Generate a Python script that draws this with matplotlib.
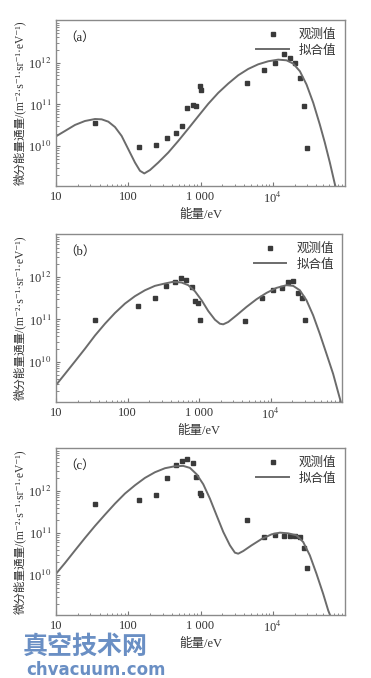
import matplotlib
matplotlib.use("Agg")
import matplotlib.pyplot as plt
import matplotlib.ticker as mticker
import numpy as np

plt.rcParams['font.family'] = ['Liberation Serif', 'Noto Sans CJK SC', 'DejaVu Sans']
plt.rcParams['mathtext.fontset'] = 'stix'

# observed energy channels (eV), shared by the three panels
obs_energy = [35, 140, 245, 346, 456, 560, 660, 790, 875, 975, 1025,
              4350, 7500, 10800, 14100, 17400, 20600, 23800, 27000, 30200]

obs_a = [3.7e10, 9.6e9, 1.06e10, 1.6e10, 2.1e10, 3.1e10, 8.3e10, 9.8e10, 9.3e10, 2.7e11,
         2.2e11, 3.2e11, 6.8e11, 1.0e12, 1.58e12, 1.27e12, 9.6e11, 4.2e11, 9.3e10, 8.9e9]
obs_b = [9.7e10, 2.1e11, 3.2e11, 6.3e11, 7.5e11, 9.8e11, 8.5e11, 6.0e11, 2.7e11, 2.4e11,
         9.6e10, 9.2e10, 3.2e11, 4.9e11, 5.4e11, 7.5e11, 7.9e11, 4.3e11, 3.2e11, 9.7e10]
obs_c = [5.0e11, 6.1e11, 8.2e11, 2.07e12, 4.1e12, 5.2e12, 5.6e12, 4.5e12, 2.1e12, 9.1e11,
         8.2e11, 2.0e11, 8.0e10, 8.9e10, 8.7e10, 8.6e10, 8.6e10, 8.0e10, 4.5e10, 1.5e10]

# fitted curves as log10(E), log10(flux)
fit_a_logE = [1.009, 1.124, 1.263, 1.40, 1.54, 1.632, 1.724, 1.816, 1.908, 2.0, 2.093, 2.162,
              2.222, 2.30, 2.415, 2.554, 2.692, 2.83, 2.969, 3.107, 3.245, 3.384, 3.522, 3.66,
              3.798, 3.937, 4.075, 4.19, 4.283, 4.375, 4.467, 4.56, 4.651, 4.72, 4.79, 4.859, 4.882]
fit_a_logF = [10.247, 10.366, 10.51, 10.604, 10.652, 10.644, 10.588, 10.46, 10.247, 9.93, 9.61, 9.413,
              9.35, 9.43, 9.61, 9.85, 10.127, 10.42, 10.72, 11.015, 11.277, 11.50, 11.698, 11.849,
              11.96, 12.033, 12.072, 12.056, 11.977, 11.795, 11.477, 11.04, 10.52, 10.09, 9.61, 9.095, 8.94]

fit_b_logE = [1.0, 1.126, 1.265, 1.405, 1.544, 1.684, 1.823, 1.963, 2.102, 2.242, 2.381, 2.521,
              2.637, 2.753, 2.847, 2.94, 3.033, 3.126, 3.219, 3.288, 3.335, 3.405, 3.521, 3.66,
              3.80, 3.94, 4.079, 4.219, 4.312, 4.405, 4.498, 4.591, 4.684, 4.777, 4.87, 4.94, 4.986]
fit_b_logF = [9.45, 9.715, 10.01, 10.31, 10.62, 10.90, 11.153, 11.375, 11.55, 11.69, 11.794, 11.85,
              11.89, 11.873, 11.81, 11.667, 11.454, 11.20, 10.995, 10.90, 10.885, 10.94, 11.098, 11.296,
              11.478, 11.628, 11.746, 11.81, 11.794, 11.69, 11.454, 11.098, 10.66, 10.19, 9.715, 9.28, 9.0]

fit_c_logE = [1.0, 1.124, 1.263, 1.40, 1.539, 1.678, 1.816, 1.954, 2.093, 2.231, 2.369, 2.508,
              2.646, 2.761, 2.853, 2.946, 3.038, 3.13, 3.222, 3.315, 3.407, 3.476, 3.522, 3.591,
              3.706, 3.845, 3.983, 4.098, 4.213, 4.329, 4.421, 4.513, 4.605, 4.697, 4.767, 4.813]
fit_c_logF = [10.03, 10.286, 10.587, 10.88, 11.167, 11.437, 11.698, 11.937, 12.135, 12.31, 12.444, 12.54,
              12.587, 12.595, 12.548, 12.397, 12.159, 11.817, 11.42, 11.024, 10.706, 10.532, 10.508, 10.571,
              10.706, 10.857, 10.968, 11.008, 10.992, 10.944, 10.786, 10.468, 10.03, 9.556, 9.16, 8.96]

panel_labels = ["（a）", "（b）", "（c）"]
xtick_vals = [10, 100, 1000, 1e4]
xtick_labels = ["10", "100", "1 000", "10$^4$"]
ytick_vals = [1e10, 1e11, 1e12]
ytick_labels = ["10$^{10}$", "10$^{11}$", "10$^{12}$"]
ylabel = "微分能量通量/(m⁻²·s⁻¹·sr⁻¹·eV⁻¹)"
xlabel = "能量/eV"

fig = plt.figure(figsize=(3.71, 6.78), dpi=100)

panels = [
    ([0.151, 0.7257, 0.779, 0.2448], obs_a, fit_a_logE, fit_a_logF),
    ([0.151, 0.4071, 0.772, 0.2478], obs_b, fit_b_logE, fit_b_logF),
    ([0.151, 0.0929, 0.779, 0.2463], obs_c, fit_c_logE, fit_c_logF),
]

line_col = "#6b6b6b"
pt_col = "#3a3a3a"

for i, (pos, obs, fe, ff) in enumerate(panels):
    ax = fig.add_axes(pos)
    ax.set_xscale("log")
    ax.set_yscale("log")
    ax.plot(obs_energy, obs, "s", color=pt_col, ms=3.4, label="观测值")
    ax.plot(10 ** np.array(fe), 10 ** np.array(ff), "-", color=line_col, lw=1.4, label="拟合值")
    ax.set_xlim(10, 1e5)
    ax.set_ylim(10 ** 9.05, 10 ** 13.02)
    ax.set_xticks(xtick_vals)
    ax.set_xticklabels(xtick_labels)
    ax.set_yticks(ytick_vals)
    ax.set_yticklabels(ytick_labels)
    ax.yaxis.set_minor_locator(mticker.LogLocator(base=10, subs=np.arange(2, 10)))
    ax.yaxis.set_minor_formatter(mticker.NullFormatter())
    ax.tick_params(which="both", direction="in", labelsize=9, colors="#777777",
                   labelcolor="#333333")
    ax.tick_params(which="major", length=3)
    ax.tick_params(which="minor", length=1.8)
    for sp in ax.spines.values():
        sp.set_color("#8a8a8a")
        sp.set_linewidth(1.0)
    ax.set_xlabel(xlabel, fontsize=9, color="#333333", labelpad=2)
    ax.set_ylabel(ylabel, fontsize=8.3, color="#333333", labelpad=1)
    ax.text(0.03, 0.93, panel_labels[i], transform=ax.transAxes, fontsize=9,
            color="#222222", va="top", ha="left")
    ax.legend(loc="upper right", frameon=False, fontsize=9, handlelength=2.6,
              labelspacing=0.3, borderaxespad=0.3, markerscale=1.0,
              labelcolor="#333333")

fig.text(0.06, 0.045, "真空技术网", fontsize=18, fontweight="bold", color="#6a8fc4",
         family=["Noto Sans CJK SC"], ha="left", va="center")
fig.text(0.07, 0.012, "chvacuum.com", fontsize=12, fontweight="bold", color="#6a8fc4",
         family=["DejaVu Sans"], ha="left", va="center")

fig.savefig("out.png", dpi=100)
